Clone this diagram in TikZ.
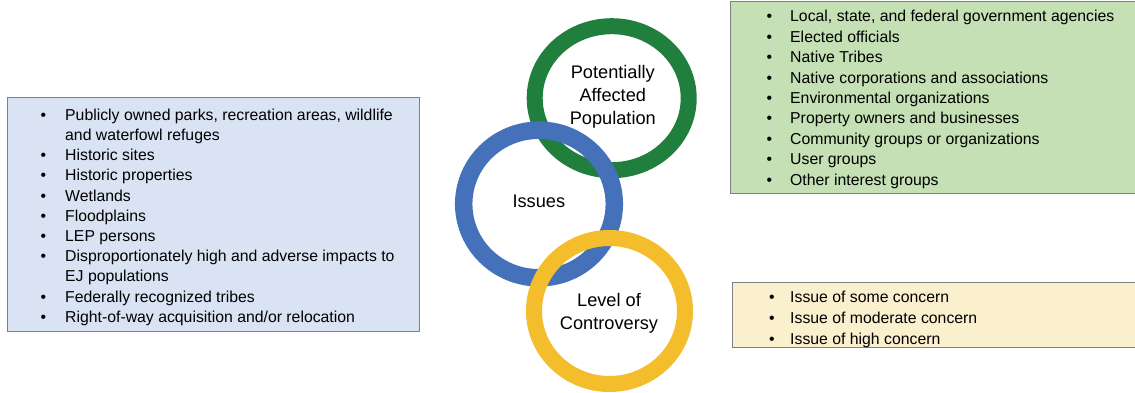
\documentclass[tikz,border=0pt]{standalone}
\usepackage{fontspec}
\setmainfont{Liberation Sans}
\definecolor{ringgreen}{RGB}{33,127,61}
\definecolor{ringblue}{RGB}{69,113,186}
\definecolor{ringgold}{RGB}{244,189,44}
\definecolor{panelblue}{RGB}{218,227,243}
\definecolor{panelgreen}{RGB}{197,224,180}
\definecolor{panelgold}{RGB}{251,240,206}
\definecolor{panelline}{RGB}{128,128,128}
\newlength{\bulw}
\newcommand{\itm}[1]{\makebox[\bulw][l]{\textbullet}#1}
\newcommand{\cnt}[1]{\hspace*{\bulw}#1}
\tikzset{
  panel/.style={draw=panelline, line width=1.3pt, inner sep=0pt, anchor=north west},
  listtext/.style={anchor=north west, inner sep=0pt, align=left},
  ringlabel/.style={align=center, inner sep=0pt, font=\fontsize{18.2pt}{23pt}\selectfont}
}
\begin{document}
\begin{tikzpicture}[x=1pt,y=-1pt]
\useasboundingbox (0,0) rectangle (1135,393);

% panels
\node[panel, fill=panelblue, minimum width=412pt, minimum height=234pt] (resbox) at (7,97) {};
\node[panel, fill=panelgreen, minimum width=412pt, minimum height=192pt] (popbox) at (730,1) {};
\node[panel, fill=panelgold, minimum width=410pt, minimum height=65pt] (ctrbox) at (732,282) {};

% interlocking rings: green, then blue, then gold on top
\draw[ringgreen, line width=16pt] (611.7,98.2) ellipse [x radius=77pt, y radius=72pt];
\draw[ringblue, line width=17.5pt] (539,204) ellipse [x radius=75.3pt, y radius=73.8pt];
\draw[ringgold, line width=16pt] (609.5,311) ellipse [x radius=75.5pt, y radius=73pt];

\node[ringlabel] (pop) at (612.8,97) {Potentially\\Affected\\Population};
\node[ringlabel] (iss) at (538.8,201) {Issues};
\node[ringlabel] (ctr) at (609,313) {Level of\\Controversy};

% bullet lists
\setlength{\bulw}{24.5pt}
\node[listtext, font=\fontsize{15.8pt}{20.2pt}\selectfont] (reslist) at (40.5,108.7) {%
\itm{Publicly owned parks, recreation areas, wildlife}\\
\cnt{and waterfowl refuges}\\
\itm{Historic sites}\\
\itm{Historic properties}\\
\itm{Wetlands}\\
\itm{Floodplains}\\
\itm{LEP persons}\\
\itm{Disproportionately high and adverse impacts to}\\
\cnt{EJ populations}\\
\itm{Federally recognized tribes}\\
\itm{Right-of-way acquisition and/or relocation}};

\setlength{\bulw}{23.5pt}
\node[listtext, font=\fontsize{15.8pt}{20.4pt}\selectfont] (poplist) at (766.5,10.2) {%
\itm{Local, state, and federal government agencies}\\
\itm{Elected officials}\\
\itm{Native Tribes}\\
\itm{Native corporations and associations}\\
\itm{Environmental organizations}\\
\itm{Property owners and businesses}\\
\itm{Community groups or organizations}\\
\itm{User groups}\\
\itm{Other interest groups}};

\setlength{\bulw}{21pt}
\node[listtext, font=\fontsize{15.8pt}{20.6pt}\selectfont] (ctrlist) at (769,291.2) {%
\itm{Issue of some concern}\\
\itm{Issue of moderate concern}\\
\itm{Issue of high concern}};
\end{tikzpicture}
\end{document}
